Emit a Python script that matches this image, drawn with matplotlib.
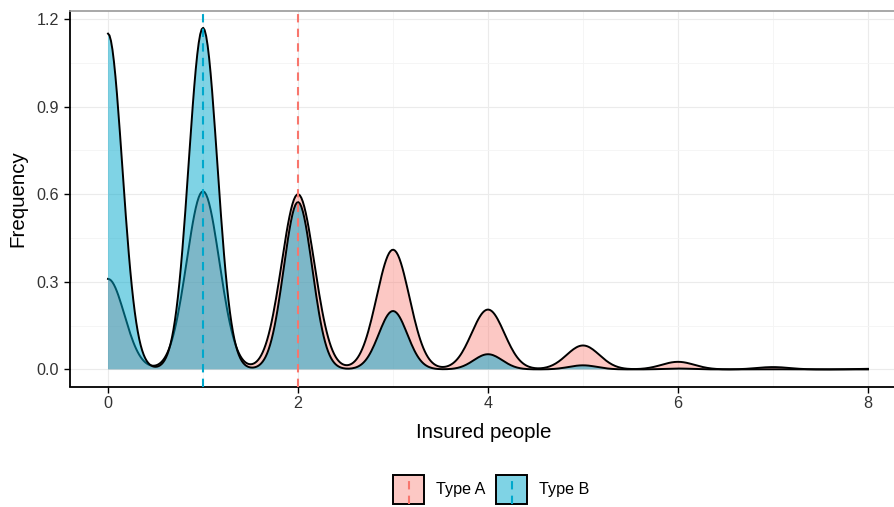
import numpy as np
import matplotlib
matplotlib.use("Agg")
import matplotlib.pyplot as plt
from matplotlib.legend_handler import HandlerBase
from matplotlib.patches import Rectangle
from matplotlib.lines import Line2D

# counts of insured people and the height of the density bump at each count
counts = [0, 1, 2, 3, 4, 5, 6, 7, 8]
peaks_a = [0.31, 0.61, 0.60, 0.41, 0.205, 0.082, 0.026, 0.008, 0.002]
peaks_b = [1.15, 1.17, 0.573, 0.20, 0.052, 0.014, 0.003, 0.0005, 0.0]
bw_a = 0.172
bw_b = 0.15
mean_a = 2
mean_b = 1
labels = ["Type A", "Type B"]

col_a = "#F8766D"
col_b = "#00A8CC"

plt.rcParams["font.family"] = ["Liberation Sans", "DejaVu Sans"]


def density(grid, peaks, bw):
    y = np.zeros_like(grid)
    for k, p in zip(counts, peaks):
        y += p * np.exp(-(grid - k) ** 2 / (2 * bw ** 2))
    return y


class KeyHandler(HandlerBase):
    def __init__(self, line_color):
        super().__init__()
        self.line_color = line_color

    def create_artists(self, legend, orig_handle, xdescent, ydescent,
                       width, height, fontsize, trans):
        rect = Rectangle((-xdescent, -ydescent), width, height,
                         facecolor=orig_handle.get_facecolor(),
                         edgecolor="black", lw=1.4, transform=trans)
        xm = -xdescent + width / 2
        line = Line2D([xm, xm], [-ydescent, -ydescent + height],
                      color=self.line_color, lw=1.5, ls=(0, (4, 3)),
                      transform=trans)
        return [rect, line]


W, H = 894, 507
fig = plt.figure(figsize=(W / 100, H / 100), dpi=100)
ax = fig.add_axes([70 / W, 1 - 386.5 / H, 836 / W, 375.8 / H])

grid = np.linspace(min(counts), max(counts), 512)
dens_a = density(grid, peaks_a, bw_a)
dens_b = density(grid, peaks_b, bw_b)

fa = ax.fill_between(grid, 0, dens_a, facecolor=col_a, alpha=0.4, lw=0, zorder=2)
ax.plot(grid, dens_a, color="black", lw=1.4, zorder=2.1)
fb = ax.fill_between(grid, 0, dens_b, facecolor=col_b, alpha=0.5, lw=0, zorder=2.2)
ax.plot(grid, dens_b, color="black", lw=1.4, zorder=2.3)

ax.axvline(mean_a, color=col_a, lw=1.5, ls=(0, (4, 3)), zorder=3)
ax.axvline(mean_b, color=col_b, lw=1.5, ls=(0, (4, 3)), zorder=3)

ax.set_xlim(-0.4, 8.4)
ax.set_ylim(-0.0585, 1.2285)
ax.set_xticks([0, 2, 4, 6, 8])
ax.set_xticks([1, 3, 5, 7], minor=True)
ax.set_yticks([0.0, 0.3, 0.6, 0.9, 1.2])
ax.set_yticks([0.15, 0.45, 0.75, 1.05], minor=True)
ax.set_yticklabels(["0.0", "0.3", "0.6", "0.9", "1.2"])
ax.tick_params(which="major", length=4.3, width=1.0, color="black",
               labelsize=11.6, labelcolor="#333333")
ax.tick_params(axis="y", which="major", pad=3.6)
ax.tick_params(axis="x", which="major", pad=2.5)
ax.tick_params(which="minor", length=0)

ax.grid(which="major", color="#EBEBEB", lw=0.8, zorder=0)
ax.grid(which="minor", color="#F4F4F4", lw=0.6, zorder=0)
ax.set_axisbelow(True)

for s in ["left", "bottom"]:
    ax.spines[s].set_color("black")
    ax.spines[s].set_linewidth(1.3)
ax.spines["top"].set_color("#9A9A9A")
ax.spines["top"].set_linewidth(1.2)
ax.spines["right"].set_visible(False)

fig.text(18 / W, 1 - 198.6 / H, "Frequency", rotation=90,
         ha="center", va="center", fontsize=14.8)
fig.text(484 / W, 1 - 432 / H, "Insured people",
         ha="center", va="center", fontsize=14.8)

fig.legend([fa, fb], labels, loc="center",
           bbox_to_anchor=(491.5 / W, 1 - 489.5 / H), ncol=2, frameon=False,
           fontsize=11.6, handlelength=1.92, handleheight=2.3,
           handletextpad=0.75, columnspacing=0.65, borderpad=0,
           handler_map={fa: KeyHandler(col_a), fb: KeyHandler(col_b)})

fig.savefig("out.png", dpi=100)
